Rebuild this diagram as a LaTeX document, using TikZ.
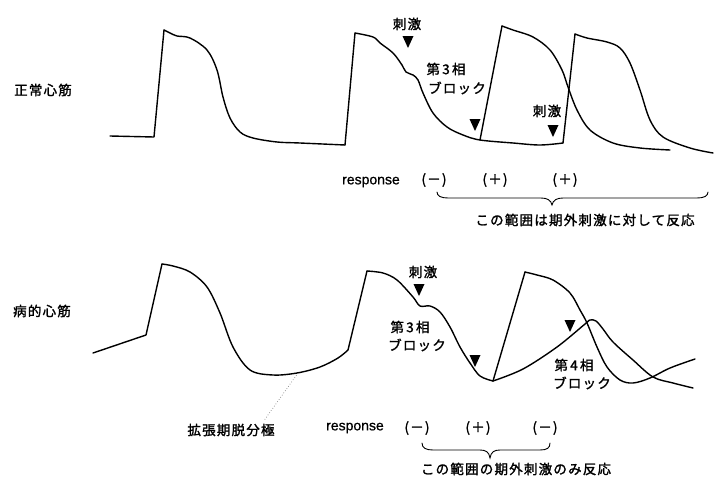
\documentclass[tikz,border=0pt]{standalone}
\usepackage{fontspec}
\newfontfamily\jpfont[LetterSpace=9,FakeBold=1.6]{Noto Sans CJK JP}
\newfontfamily\latinfont[FakeBold=0.8]{Liberation Sans}
\tikzset{
  trace/.style={line width=1.4pt, line join=round, line cap=round},
  jp/.style={font=\jpfont\fontsize{13.5}{15}\selectfont, inner sep=0pt},
  lat/.style={font=\latinfont\fontsize{14}{16}\selectfont, inner sep=0pt},
  bracepath/.style={line width=0.9pt, line cap=round},
  stim/.pic={\fill (-5.5,-6) -- (5.5,-6) -- (0,6) -- cycle;}
}
\begin{document}
\begin{tikzpicture}[x=1pt,y=-1pt]
\useasboundingbox (0,0) rectangle (715,477);
% ---------------- top: normal myocardium
\node[jp] (lblA) at (43,90) {正常心筋};
\draw[trace] (110,136) -- (154,137) -- (164,30);
\draw[trace] plot[smooth,tension=0.55] coordinates {(164,30) (170,33) (177,36) (190,38) (207,50) (217,70) (223,97) (230,118) (240,132) (253,138) (277,142) (300,143) (345,145)};
\draw[trace] (345,145) -- (355,33);
\draw[trace] plot[smooth,tension=0.55] coordinates {(355,33) (373,37) (380,43) (393,53) (402,65) (406,72) (413,75) (418,80) (423,93) (433,113) (447,127) (463,135) (480,140) (513,143) (540,145) (563,143)};
\draw[trace] (480,140) -- (502,26);
\draw[trace] plot[smooth,tension=0.55] coordinates {(502,26) (513,30) (533,37) (550,50) (562,70) (568,87) (577,110) (590,130) (613,143) (640,148) (670,150)};
\draw[trace] (563,143) -- (575,34);
\draw[trace] plot[smooth,tension=0.55] coordinates {(575,34) (587,38) (607,42) (620,48) (630,63) (640,90) (650,120) (663,137) (690,148) (713,153)};
\node[jp] (stA1) at (407,24) {刺激};
\pic at (408,42) {stim};
\node[jp] (ph3A) at (446,69) {第\,3\,相};
\node[jp] (blkA) at (457,88) {ブロック};
\pic at (475,125) {stim};
\node[jp] (stA2) at (547,111) {刺激};
\pic at (553,131) {stim};
\node[lat] (respA) at (371,182) {response};
\node[jp] (rA1) at (434,180) {(－)};
\node[jp] (rA2) at (495,180) {(＋)};
\node[jp] (rA3) at (565,180) {(＋)};
\draw[bracepath] (437,192) .. controls (437,196) and (441,198) .. (448,198) -- (541,198) .. controls (547,198) and (551,200) .. (552,205) .. controls (553,200) and (557,198) .. (563,198) -- (697,198) .. controls (704,198) and (708,196) .. (708,192);
\node[jp] (rngA) at (585,220) {この範囲は期外刺激に対して反応};
% ---------------- bottom: diseased myocardium
\node[jp] (lblB) at (42,311) {病的心筋};
\draw[trace] (93,353) -- (146,335) -- (162,264);
\draw[trace] plot[smooth,tension=0.55] coordinates {(162,264) (173,266) (190,272) (207,287) (220,313) (233,347) (250,370) (273,375) (297,373) (320,367) (338,358) (348,350)};
\draw[trace] (348,350) -- (367,271);
\draw[trace] plot[smooth,tension=0.55] coordinates {(367,271) (383,273) (397,280) (413,297) (420,306) (430,306) (440,312) (450,327) (460,347) (470,363) (480,376) (493,381)};
\draw[trace] (493,381) -- (525,272);
\draw[trace] plot[smooth,tension=0.55] coordinates {(525,272) (537,275) (553,280) (570,293) (580,310) (587,323) (597,347) (607,367) (620,380) (633,383) (650,378) (670,368) (695,359)};
\draw[trace] plot[smooth,tension=0.55] coordinates {(493,381) (523,369) (557,347) (585,324) (590,320) (596,321) (603,329) (613,342) (633,360) (653,377) (673,383) (693,388)};
\node[jp] (stB1) at (423,272) {刺激};
\pic at (419,290) {stim};
\node[jp] (ph3B) at (410,327) {第\,3\,相};
\node[jp] (blkB) at (417,345) {ブロック};
\pic at (475,361) {stim};
\pic at (570,326) {stim};
\node[jp] (ph4B) at (574,365) {第\,4\,相};
\node[jp] (blkB2) at (582,383) {ブロック};
\node[jp] (diast) at (231,430) {拡張期脱分極};
\coordinate (diastPt) at (298,373);
\draw[dotted, line width=0.7pt, gray] (diast.north east) ++(-10,-4) -- (diastPt);
\node[lat] (respB) at (355,428) {response};
\node[jp] (rB1) at (417,428) {(－)};
\node[jp] (rB2) at (478,428) {(＋)};
\node[jp] (rB3) at (545,428) {(－)};
\draw[bracepath] (422,443) .. controls (422,448) and (426,450) .. (433,450) -- (480,450) .. controls (486,450) and (489,452) .. (490,458) .. controls (491,452) and (494,450) .. (500,450) -- (540,450) .. controls (547,450) and (550,448) .. (550,443);
\node[jp] (rngB) at (516,469) {この範囲の期外刺激のみ反応};
\end{tikzpicture}
\end{document}
